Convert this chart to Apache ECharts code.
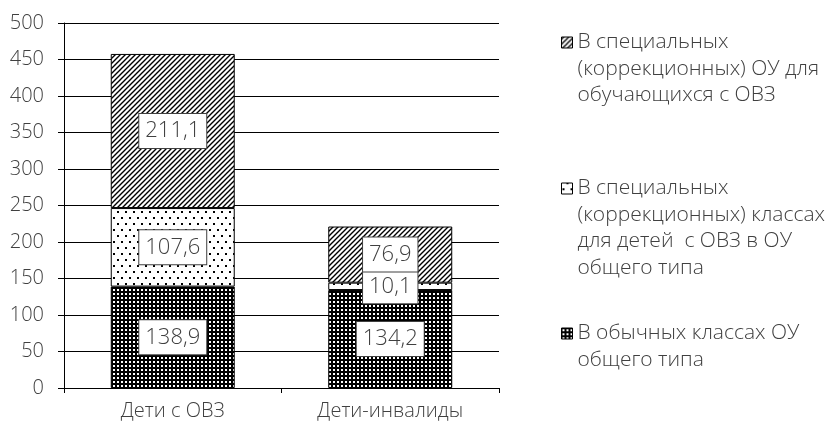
<!DOCTYPE html>
<html>
<head>
<meta charset="utf-8">
<script src="https://cdn.jsdelivr.net/npm/echarts@6/dist/echarts.min.js"></script>
<style>
  html, body { margin: 0; padding: 0; background: #fff; }
  #chart { width: 840px; height: 426px; }
</style>
</head>
<body>
<div id="chart"></div>
<script>
// категории и значения (тыс. чел.)
var categories = ['Дети с ОВЗ', 'Дети-инвалиды'];
var regularClasses = [138.9, 134.2];   // В обычных классах ОУ общего типа
var specialClasses = [107.6, 10.1];    // В специальных классах в ОУ общего типа
var specialSchools = [211.1, 76.9];    // В специальных ОУ

var nameRegular = ['В обычных классах ОУ', 'общего типа'];
var nameClasses = ['В специальных', '(коррекционных) классах', 'для детей  с ОВЗ в ОУ', 'общего типа'];
var nameSchools = ['В специальных', '(коррекционных) ОУ для', 'обучающихся с ОВЗ'];

var yTicks = { min: 0, max: 500, step: 50 };

var font = 'Open Sans';
var textColor = '#404040';

// штриховки
function makeTile(w, h, draw) {
    var c = document.createElement('canvas');
    c.width = w;
    c.height = h;
    var ctx = c.getContext('2d');
    draw(ctx, w, h);
    return { image: c, repeat: 'repeat' };
}

// диагональная штриховка
var hatch = makeTile(5, 5, function (ctx, w, h) {
    ctx.fillStyle = '#fff';
    ctx.fillRect(0, 0, w, h);
    ctx.strokeStyle = '#000';
    ctx.lineWidth = 1.4;
    ctx.beginPath();
    ctx.moveTo(-1, h + 1); ctx.lineTo(w + 1, -1);
    ctx.moveTo(-2, 2); ctx.lineTo(2, -2);
    ctx.moveTo(w - 2, h + 2); ctx.lineTo(w + 2, h - 2);
    ctx.stroke();
});

// редкие точки
var dots = makeTile(8, 12, function (ctx, w, h) {
    ctx.fillStyle = '#fff';
    ctx.fillRect(0, 0, w, h);
    ctx.fillStyle = '#000';
    ctx.fillRect(1, 1, 2, 2);
    ctx.fillRect(5, 7, 2, 2);
});

// тёмная сетка
var grid = makeTile(4, 4, function (ctx, w, h) {
    ctx.fillStyle = '#000';
    ctx.fillRect(0, 0, w, h);
    ctx.fillStyle = '#fff';
    ctx.fillRect(1, 1, 2, 2);
});

var lineH = 26.5;

function barSeries(name, data, fill) {
    return {
        name: name.join('\n'),
        type: 'bar',
        stack: 'total',
        barWidth: '57%',
        data: data,
        itemStyle: { color: fill, borderColor: '#000', borderWidth: 1 },
        label: {
            show: true,
            position: 'inside',
            formatter: function (p) { return p.value.toFixed(1).replace('.', ','); },
            fontFamily: font,
            fontWeight: 300,
            fontSize: 22,
            lineHeight: 26,
            color: textColor,
            backgroundColor: '#fff',
            borderColor: '#404040',
            borderWidth: 1,
            padding: [4, 6]
        }
    };
}

// одна легенда на элемент; значок стоит у первой строки текста
function legendFor(name, firstLineY) {
    var n = name.length;
    var h = n * lineH;
    var c = lineH / 2;
    var icon = 'path://M0,' + (c - 5.5) + 'H11V' + (c + 5.5) + 'H0Z M0,0 M11,' + h;
    return {
        orient: 'vertical',
        left: 561,
        top: firstLineY - lineH / 2,
        padding: 0,
        itemWidth: 11,
        itemHeight: h,
        icon: icon,
        data: [name.join('\n')],
        itemStyle: { borderColor: '#000', borderWidth: 1 },
        textStyle: {
            fontFamily: font,
            fontWeight: 300,
            fontSize: 21,
            lineHeight: lineH,
            color: textColor
        }
    };
}

var chart = echarts.init(document.getElementById('chart'));
chart.setOption({
    animation: false,
    grid: { left: 64, right: 341, top: 23, bottom: 38 },
    legend: [
        legendFor(nameSchools, 42),
        legendFor(nameClasses, 188),
        legendFor(nameRegular, 333)
    ],
    xAxis: {
        type: 'category',
        data: categories,
        axisLine: { lineStyle: { color: '#000', width: 1 } },
        axisTick: { show: true, length: 5, lineStyle: { color: '#000' } },
        axisLabel: { fontFamily: font, fontWeight: 300, fontSize: 20, color: textColor, margin: 13 }
    },
    yAxis: {
        type: 'value',
        min: yTicks.min,
        max: yTicks.max,
        interval: yTicks.step,
        axisLine: { show: true, lineStyle: { color: '#000', width: 1 } },
        axisTick: { show: true, length: 6, lineStyle: { color: '#000' } },
        axisLabel: { fontFamily: font, fontWeight: 300, fontSize: 20, color: textColor, margin: 20 },
        splitLine: { show: true, lineStyle: { color: '#000', width: 1 } }
    },
    series: [
        barSeries(nameRegular, regularClasses, grid),
        barSeries(nameClasses, specialClasses, dots),
        barSeries(nameSchools, specialSchools, hatch)
    ]
});
</script>
</body>
</html>
